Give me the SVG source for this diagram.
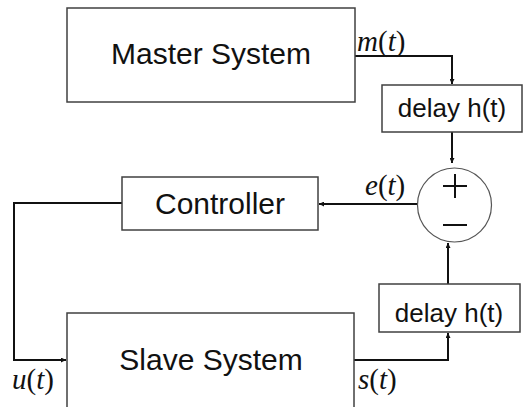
<svg xmlns="http://www.w3.org/2000/svg" width="523" height="407" viewBox="0 0 523 407">
  <style>
    .box { fill: #fff; stroke: #404040; stroke-width: 1.5; }
    .lbl { font-family: "Liberation Sans", Arial, sans-serif; fill: #111; text-anchor: middle; }
    .big { font-size: 30px; }
    .small { font-size: 26px; }
    .math { font-family: "Liberation Serif", "Times New Roman", serif; font-size: 29px; fill: #111; }
    .math .v { font-style: italic; }
    .wire { fill: none; stroke: #111; stroke-width: 2; }
  </style>
  <defs>
    <marker id="arrow" viewBox="0 0 10 10" refX="10" refY="5" markerWidth="5" markerHeight="5" orient="auto" markerUnits="userSpaceOnUse">
      <path d="M0,0 L10,5 L0,10 z" fill="#111"/>
    </marker>
  </defs>
  <rect width="523" height="407" fill="#fff"/>

  <g id="connectors">
    <path class="wire" d="M355,56 H452 V84" marker-end="url(#arrow)"/>
    <path class="wire" d="M452,132 V163" marker-end="url(#arrow)"/>
    <path class="wire" d="M417,204 H319" marker-end="url(#arrow)"/>
    <path class="wire" d="M122,203 H14 V360 H66" marker-end="url(#arrow)"/>
    <path class="wire" d="M354,360 H448 V333" marker-end="url(#arrow)"/>
    <path class="wire" d="M448,284 V243" marker-end="url(#arrow)"/>
  </g>

  <g id="master">
    <rect class="box" x="67" y="8" width="288" height="94"/>
    <text class="lbl big" x="211" y="64">Master System</text>
  </g>
  <text class="math" x="357" y="51"><tspan class="v">m</tspan>(<tspan class="v">t</tspan>)</text>

  <g id="delay-master">
    <rect class="box" x="382" y="85" width="140" height="47"/>
    <text class="lbl small" x="452" y="117">delay h(t)</text>
  </g>

  <g id="sum">
    <circle cx="454.5" cy="205" r="37" fill="#fff" stroke="#555" stroke-width="1.2"/>
    <path d="M443,186 H467 M455,174 V198 M443,225 H467" stroke="#111" stroke-width="2" fill="none"/>
  </g>
  <text class="math" x="365" y="195"><tspan class="v">e</tspan>(<tspan class="v">t</tspan>)</text>

  <g id="controller">
    <rect class="box" x="122" y="177" width="196" height="53"/>
    <text class="lbl big" x="220" y="214">Controller</text>
  </g>

  <g id="slave">
    <rect class="box" x="67" y="313" width="287" height="100"/>
    <text class="lbl big" x="211" y="370">Slave System</text>
  </g>
  <text class="math" x="12" y="389"><tspan class="v">u</tspan>(<tspan class="v">t</tspan>)</text>
  <text class="math" x="358" y="389"><tspan class="v">s</tspan>(<tspan class="v">t</tspan>)</text>

  <g id="delay-slave">
    <rect class="box" x="379" y="284" width="141" height="48"/>
    <text class="lbl small" x="449" y="322">delay h(t)</text>
  </g>
</svg>
